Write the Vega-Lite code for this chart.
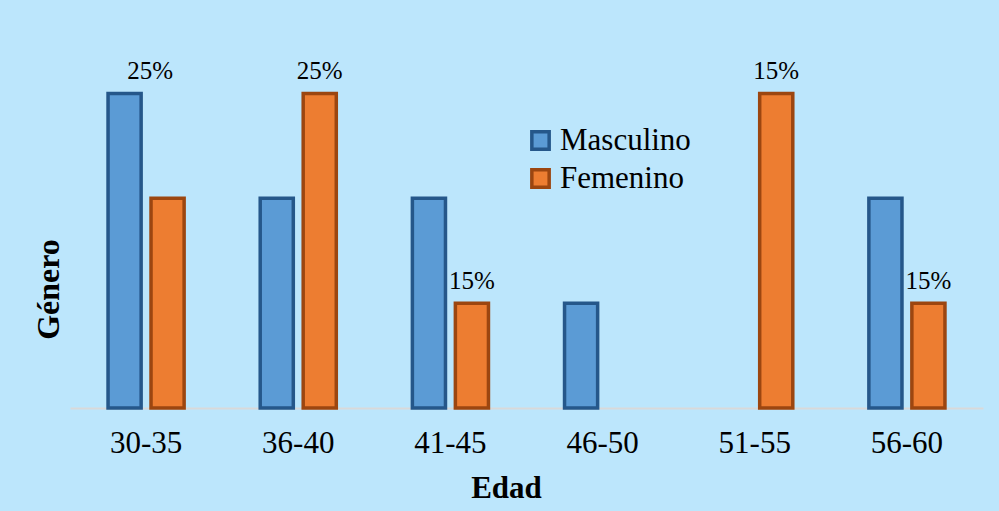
{
  "$schema": "https://vega.github.io/schema/vega-lite/v6.json",
  "width": 913,
  "height": 346,
  "autosize": {"type": "none"},
  "padding": {"left": 70, "top": 62, "right": 16, "bottom": 103},
  "background": "#BCE6FC",
  "config": {
    "view": {"stroke": null},
    "font": "Liberation Serif"
  },
  "data": {
    "values": [
      {"edad": "30-35", "genero": "Masculino", "valor": 3, "etiqueta": "25%"},
      {"edad": "30-35", "genero": "Femenino", "valor": 2, "etiqueta": ""},
      {"edad": "36-40", "genero": "Masculino", "valor": 2, "etiqueta": ""},
      {"edad": "36-40", "genero": "Femenino", "valor": 3, "etiqueta": "25%"},
      {"edad": "41-45", "genero": "Masculino", "valor": 2, "etiqueta": ""},
      {"edad": "41-45", "genero": "Femenino", "valor": 1, "etiqueta": "15%"},
      {"edad": "46-50", "genero": "Masculino", "valor": 1, "etiqueta": ""},
      {"edad": "46-50", "genero": "Femenino", "valor": 0, "etiqueta": ""},
      {"edad": "51-55", "genero": "Masculino", "valor": 0, "etiqueta": ""},
      {"edad": "51-55", "genero": "Femenino", "valor": 3, "etiqueta": "15%"},
      {"edad": "56-60", "genero": "Masculino", "valor": 2, "etiqueta": ""},
      {"edad": "56-60", "genero": "Femenino", "valor": 1, "etiqueta": "15%"}
    ]
  },
  "encoding": {
    "x": {
      "field": "edad",
      "type": "nominal",
      "sort": null,
      "scale": {"paddingInner": 0.5, "paddingOuter": 0.25},
      "axis": {
        "title": "Edad",
        "titleFont": "Liberation Serif",
        "titleFontSize": 31,
        "titleFontWeight": "bold",
        "titleColor": "#000000",
        "titlePadding": 15,
        "titleX": 436,
        "labelAngle": 0,
        "labelFont": "Liberation Serif",
        "labelFontSize": 31,
        "labelColor": "#000000",
        "labelPadding": 20,
        "ticks": false,
        "domainColor": "#D9D9D9",
        "domainWidth": 2,
        "grid": false
      }
    },
    "y": {
      "field": "valor",
      "type": "quantitative",
      "scale": {"domain": [0, 3.3], "nice": false},
      "axis": {
        "title": "Género",
        "titleFont": "Liberation Serif",
        "titleFontSize": 32,
        "titleFontWeight": "bold",
        "titleColor": "#000000",
        "titleAngle": -90,
        "titleAlign": "center",
        "titleBaseline": "middle",
        "titleX": -22,
        "titleY": 227,
        "labels": false,
        "ticks": false,
        "domain": false,
        "grid": false
      }
    }
  },
  "layer": [
    {
      "transform": [{"filter": "datum.valor > 0"}],
      "mark": {"type": "bar", "strokeWidth": 3.5},
      "encoding": {
        "xOffset": {
          "field": "genero",
          "type": "nominal",
          "sort": ["Masculino", "Femenino"],
          "scale": {"paddingInner": 0.23, "paddingOuter": 0}
        },
        "color": {
          "field": "genero",
          "type": "nominal",
          "sort": ["Masculino", "Femenino"],
          "scale": {"domain": ["Masculino", "Femenino"], "range": ["#5B9BD5", "#ED7D31"]},
          "legend": {
            "title": null,
            "orient": "none",
            "legendX": 455,
            "legendY": 63,
            "symbolType": "square",
            "symbolSize": 300,
            "symbolStrokeWidth": 3.5,
            "labelFont": "Liberation Serif",
            "labelFontSize": 31,
            "labelColor": "#000000",
            "labelOffset": 4,
            "rowPadding": 5,
            "labelLimit": 300
          }
        },
        "stroke": {
          "field": "genero",
          "type": "nominal",
          "sort": ["Masculino", "Femenino"],
          "scale": {"domain": ["Masculino", "Femenino"], "range": ["#25578A", "#9C4610"]},
          "legend": null
        }
      }
    },
    {
      "transform": [{"filter": "datum.etiqueta != '' && datum.genero == 'Femenino'"}],
      "mark": {"type": "text", "baseline": "alphabetic", "dy": -14, "fontSize": 25, "font": "Liberation Serif", "color": "#000000"},
      "encoding": {
        "xOffset": {
          "field": "genero",
          "type": "nominal",
          "sort": ["Masculino", "Femenino"],
          "scale": {"paddingInner": 0.23, "paddingOuter": 0}
        },
        "text": {"field": "etiqueta"}
      }
    },
    {
      "transform": [{"filter": "datum.etiqueta != '' && datum.genero == 'Masculino'"}],
      "mark": {"type": "text", "baseline": "alphabetic", "dy": -14, "dx": 4, "fontSize": 25, "font": "Liberation Serif", "color": "#000000"},
      "encoding": {
        "text": {"field": "etiqueta"}
      }
    }
  ]
}
